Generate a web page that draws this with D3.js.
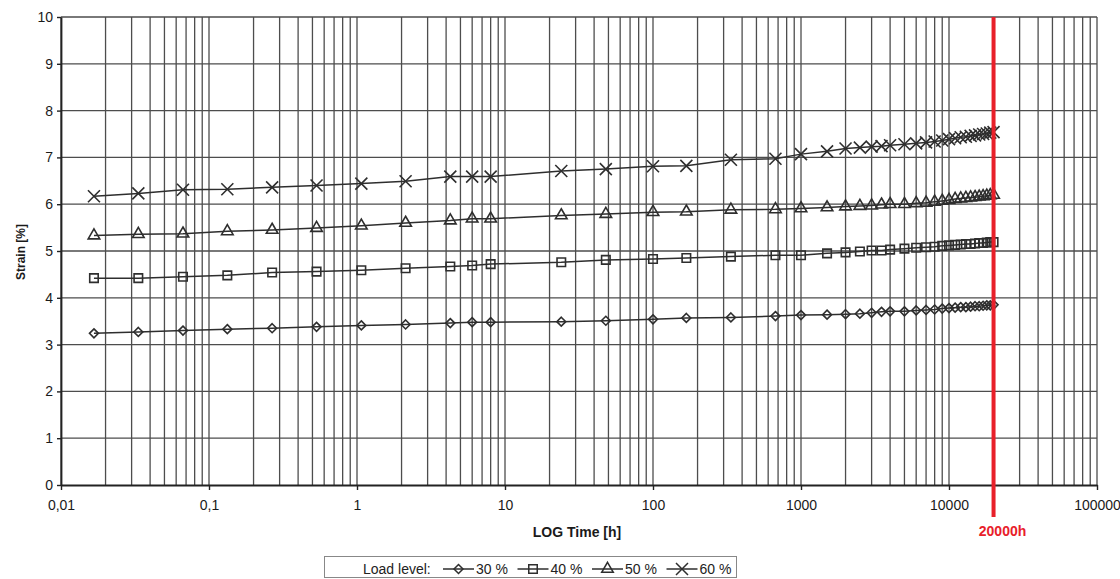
<!DOCTYPE html>
<html>
<head>
<meta charset="utf-8">
<script src="https://cdn.jsdelivr.net/npm/d3@7"></script>
<style>
  body { margin: 0; background: #fff; }
  text { font-family: Arial, 'Liberation Sans', sans-serif; }
</style>
</head>
<body>
<div id="chart"></div>
<script>
var w = 1120;
var h = 579;

// time since loading [h]
var times = [0.0167, 0.0333, 0.0667, 0.133, 0.267, 0.533, 1.07, 2.13, 4.27, 6, 8, 24, 48, 100, 168, 336, 672,
  1000, 1500, 2000, 2500, 3000, 3500, 4000, 5000, 6000, 7000, 8000, 9000, 10000,
  11000, 12000, 13000, 14000, 15000, 16000, 17000, 18000, 19000, 20000];

// strain [%] per load level
var strain30 = [3.24, 3.27, 3.30, 3.33, 3.35, 3.38, 3.41, 3.43, 3.46, 3.48, 3.48, 3.49, 3.51, 3.54, 3.57, 3.58, 3.61,
  3.63, 3.64, 3.65, 3.66, 3.68, 3.70, 3.71, 3.71, 3.73, 3.74, 3.75, 3.77, 3.78,
  3.79, 3.80, 3.80, 3.81, 3.82, 3.82, 3.83, 3.84, 3.84, 3.85];
var strain40 = [4.42, 4.42, 4.45, 4.48, 4.54, 4.56, 4.59, 4.63, 4.67, 4.69, 4.72, 4.76, 4.81, 4.83, 4.85, 4.88, 4.91,
  4.91, 4.95, 4.97, 4.99, 5.01, 5.01, 5.03, 5.05, 5.07, 5.08, 5.09, 5.11, 5.12,
  5.13, 5.14, 5.15, 5.15, 5.16, 5.17, 5.17, 5.18, 5.19, 5.19];
var strain50 = [5.33, 5.36, 5.37, 5.42, 5.45, 5.49, 5.54, 5.60, 5.65, 5.69, 5.69, 5.76, 5.79, 5.83, 5.84, 5.88, 5.89,
  5.91, 5.93, 5.95, 5.96, 5.97, 5.99, 6.00, 6.00, 6.02, 6.03, 6.05, 6.07, 6.09,
  6.11, 6.12, 6.13, 6.14, 6.15, 6.16, 6.17, 6.18, 6.19, 6.20];
var strain60 = [6.17, 6.23, 6.31, 6.32, 6.36, 6.40, 6.44, 6.49, 6.59, 6.59, 6.59, 6.71, 6.75, 6.81, 6.82, 6.95, 6.97,
  7.07, 7.13, 7.19, 7.21, 7.23, 7.24, 7.26, 7.28, 7.30, 7.32, 7.34, 7.36, 7.39,
  7.41, 7.43, 7.44, 7.46, 7.47, 7.49, 7.50, 7.51, 7.53, 7.54];

var loadLevels = ['30 %', '40 %', '50 %', '60 %'];
var xTicks = [0.01, 0.1, 1, 10, 100, 1000, 10000, 100000];
var xTickLabels = ['0,01', '0,1', '1', '10', '100', '1000', '10000', '100000'];
var yTicks = [0, 1, 2, 3, 4, 5, 6, 7, 8, 9, 10];
var markTime = 20000;
var markLabel = '20000h';

var series = [strain30, strain40, strain50, strain60];

// marker shapes: diamond, square, triangle, cross
var diamond = { draw: function(ctx, size) {
  var r = Math.sqrt(size / 2);
  ctx.moveTo(0, -r); ctx.lineTo(r, 0); ctx.lineTo(0, r); ctx.lineTo(-r, 0); ctx.closePath();
} };
var cross = { draw: function(ctx, size) {
  var r = Math.sqrt(size) / 2;
  ctx.moveTo(-r, -r); ctx.lineTo(r, r); ctx.moveTo(r, -r); ctx.lineTo(-r, r);
} };
var markers = [
  d3.symbol().type(diamond).size(40),
  d3.symbol().type(d3.symbolSquare).size(72),
  d3.symbol().type(d3.symbolTriangle).size(58),
  d3.symbol().type(cross).size(144)
];

var ink = '#2e2e2e';
var gridInk = '#4d4d4d';

var svg = d3.select('#chart')
  .append('svg')
    .attr('width', w)
    .attr('height', h)
    .style('background', '#fff');

var x = d3.scaleLog().domain([0.01, 100000]).range([61, 1097]);
var y = d3.scaleLinear().domain([0, 10]).range([485, 17]);

// grid
var grid = svg.append('g').attr('class', 'grid');
grid.selectAll('.vgrid')
  .data(x.ticks())
  .enter()
  .append('line')
    .attr('class', 'vgrid')
    .attr('x1', function(d) { return x(d); })
    .attr('x2', function(d) { return x(d); })
    .attr('y1', y(10))
    .attr('y2', y(0))
    .style('stroke', gridInk)
    .style('stroke-width', 1.3);
grid.selectAll('.hgrid')
  .data(yTicks.slice(1))
  .enter()
  .append('line')
    .attr('class', 'hgrid')
    .attr('x1', x(0.01))
    .attr('x2', x(100000))
    .attr('y1', function(d) { return y(d); })
    .attr('y2', function(d) { return y(d); })
    .style('stroke', gridInk)
    .style('stroke-width', 1.3);

// axes
var xAxis = svg.append('g')
  .attr('transform', 'translate(0,' + y(0) + ')')
  .call(d3.axisBottom(x)
    .tickValues(xTicks)
    .tickFormat(function(d, i) { return xTickLabels[i]; })
    .tickSize(5)
    .tickSizeOuter(0)
    .tickPadding(10));
var yAxis = svg.append('g')
  .attr('transform', 'translate(' + x(0.01) + ',0)')
  .call(d3.axisLeft(y)
    .tickValues(yTicks)
    .tickSize(4)
    .tickSizeOuter(0)
    .tickPadding(4));
[xAxis, yAxis].forEach(function(a) {
  a.select('.domain').style('stroke', '#222').style('stroke-width', 1.8);
  a.selectAll('.tick line').style('stroke', '#222').style('stroke-width', 1.4);
  a.selectAll('.tick text')
    .style('font-size', '14px')
    .style('fill', '#1a1a1a');
});

// axis titles
svg.append('text')
  .attr('x', 577)
  .attr('y', 537)
  .attr('text-anchor', 'middle')
  .style('font-size', '14px')
  .style('font-weight', 'bold')
  .style('fill', '#1a1a1a')
  .text('LOG Time [h]');
svg.append('text')
  .attr('transform', 'translate(25,252) rotate(-90)')
  .attr('text-anchor', 'middle')
  .style('font-size', '12px')
  .style('font-weight', 'bold')
  .style('fill', '#1a1a1a')
  .text('Strain [%]');

// series lines + markers
var line = d3.line()
  .x(function(d, i) { return x(times[i]); })
  .y(function(d) { return y(d); });

series.forEach(function(vals, s) {
  var g = svg.append('g').attr('class', 'series-' + s);
  g.append('path')
    .datum(vals)
    .attr('d', line)
    .style('fill', 'none')
    .style('stroke', ink)
    .style('stroke-width', 1.5);
  g.selectAll('.pt')
    .data(vals)
    .enter()
    .append('path')
      .attr('class', 'pt')
      .attr('d', markers[s])
      .attr('transform', function(d, i) { return 'translate(' + x(times[i]) + ',' + y(d) + ')'; })
      .style('fill', 'none')
      .style('stroke', ink)
      .style('stroke-width', 1.6);
});

// 20000 h marker line
svg.append('line')
  .attr('x1', x(markTime))
  .attr('x2', x(markTime))
  .attr('y1', y(10))
  .attr('y2', 517)
  .style('stroke', '#e8202a')
  .style('stroke-width', 4);
svg.append('text')
  .attr('x', x(markTime) + 9)
  .attr('y', 536)
  .attr('text-anchor', 'middle')
  .style('font-size', '14px')
  .style('font-weight', 'bold')
  .style('fill', '#e8202a')
  .text(markLabel);

// legend
var legend = svg.append('g').attr('class', 'legend');
legend.append('rect')
  .attr('x', 324.5)
  .attr('y', 556.5)
  .attr('width', 412)
  .attr('height', 21)
  .style('fill', '#fff')
  .style('stroke', '#888');
legend.append('text')
  .attr('x', 363)
  .attr('y', 574)
  .style('font-size', '14px')
  .style('fill', '#222')
  .text('Load level:');
loadLevels.forEach(function(lbl, i) {
  var lx = 443 + i * 74.5;
  var item = legend.append('g').attr('transform', 'translate(' + lx + ',569)');
  item.append('line')
    .attr('x1', 0).attr('x2', 31)
    .style('stroke', ink)
    .style('stroke-width', 1.5);
  item.append('path')
    .attr('d', markers[i])
    .attr('transform', 'translate(15.5,0)')
    .style('fill', 'none')
    .style('stroke', ink)
    .style('stroke-width', 1.5);
  item.append('text')
    .attr('x', 33)
    .attr('y', 5)
    .style('font-size', '14px')
    .style('fill', '#222')
    .text(lbl);
});
</script>
</body>
</html>
